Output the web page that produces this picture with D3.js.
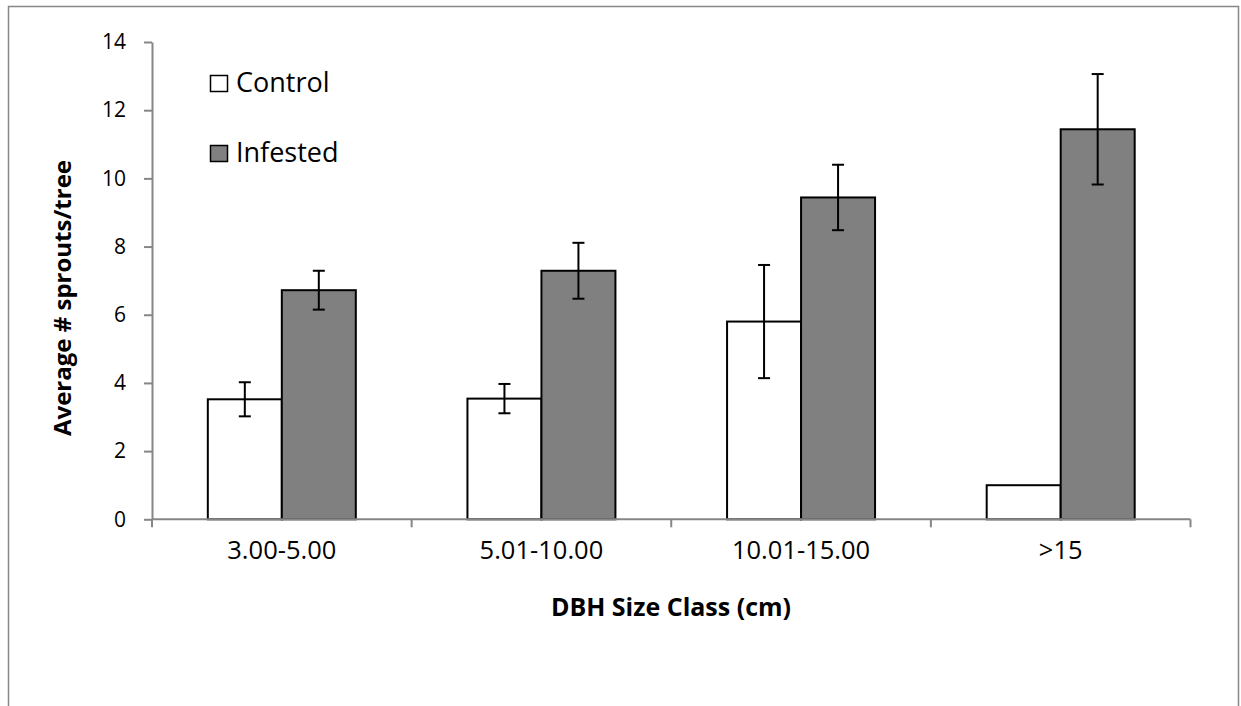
<!DOCTYPE html>
<html>
<head>
<meta charset="utf-8">
<script src="https://cdn.jsdelivr.net/npm/d3@7"></script>
<style>
    body { margin: 0; background: #fff; }
    svg text { font-family: "Open Sans", "Noto Sans", sans-serif; fill: #000; }
</style>
</head>
<body>
<div class="chart__container"></div>
<script>
const categories = ['3.00-5.00', '5.01-10.00', '10.01-15.00', '>15'];
const seriesNames = ['Control', 'Infested'];
const controlValues = [3.52, 3.54, 5.80, 1.0];
const controlErrors = [0.50, 0.43, 1.66, null];
const infestedValues = [6.72, 7.29, 9.44, 11.44];
const infestedErrors = [0.57, 0.82, 0.96, 1.62];
const yTicks = [0, 2, 4, 6, 8, 10, 12, 14];

const seriesFill = { Control: '#ffffff', Infested: '#808080' };

function whenDocumentLoaded(action) {
    if (document.readyState === "loading") {
        document.addEventListener("DOMContentLoaded", action);
    } else {
        action();
    }
}

function drawChart() {
    const width = 1241, height = 706;
    const plot = { left: 152, right: 1190.5, top: 42, bottom: 519.3 };
    const axisColor = '#868686';

    const svg = d3.select('.chart__container')
        .append('svg')
        .attr('width', width)
        .attr('height', height);

    // outer frame (bottom edge runs off the page)
    svg.append('rect')
        .attr('x', 8.5).attr('y', 6.5)
        .attr('width', 1230).attr('height', 720)
        .attr('fill', 'none')
        .attr('stroke', '#878787')
        .attr('stroke-width', 1.5);

    const y = d3.scaleLinear().domain([0, 14]).range([plot.bottom, plot.top]);

    const x0 = d3.scaleBand()
        .domain(categories)
        .range([plot.left, plot.right])
        .padding(0);

    const gap = x0.step() * 0.215;
    const x1 = d3.scaleBand()
        .domain(seriesNames)
        .range([gap, x0.step() - gap])
        .padding(0);

    const rows = categories.map((c, i) => ({
        category: c,
        bars: [
            { name: 'Control', value: controlValues[i], err: controlErrors[i] },
            { name: 'Infested', value: infestedValues[i], err: infestedErrors[i] }
        ]
    }));

    // y axis
    const yAxis = svg.append('g')
        .attr('transform', 'translate(' + plot.left + ',0)')
        .call(d3.axisLeft(y).tickValues(yTicks).tickSize(8).tickPadding(18).tickSizeOuter(0));
    yAxis.select('.domain').attr('stroke', axisColor).attr('stroke-width', 2);
    yAxis.selectAll('.tick line').attr('stroke', axisColor).attr('stroke-width', 2);
    yAxis.selectAll('.tick text')
        .style('font-family', '"Open Sans", sans-serif')
        .style('font-size', '21px')
        .attr('fill', '#000');

    // bars
    const groups = svg.append('g')
        .selectAll('g')
        .data(rows)
        .enter()
        .append('g')
        .attr('transform', d => 'translate(' + x0(d.category) + ',0)');

    groups.selectAll('rect')
        .data(d => d.bars)
        .enter()
        .append('rect')
        .attr('x', d => x1(d.name))
        .attr('y', d => y(d.value))
        .attr('width', x1.bandwidth())
        .attr('height', d => y(0) - y(d.value))
        .attr('fill', d => seriesFill[d.name])
        .attr('stroke', '#000')
        .attr('stroke-width', 2);

    // error bars
    const capHalf = 6;
    const errs = groups.selectAll('g.err')
        .data(d => d.bars.filter(b => b.err != null))
        .enter()
        .append('g')
        .attr('class', 'err')
        .attr('stroke', '#000')
        .attr('stroke-width', 2);

    errs.append('line')
        .attr('x1', d => x1(d.name) + x1.bandwidth() / 2)
        .attr('x2', d => x1(d.name) + x1.bandwidth() / 2)
        .attr('y1', d => y(d.value + d.err))
        .attr('y2', d => y(d.value - d.err));
    errs.append('line')
        .attr('x1', d => x1(d.name) + x1.bandwidth() / 2 - capHalf)
        .attr('x2', d => x1(d.name) + x1.bandwidth() / 2 + capHalf)
        .attr('y1', d => y(d.value + d.err))
        .attr('y2', d => y(d.value + d.err));
    errs.append('line')
        .attr('x1', d => x1(d.name) + x1.bandwidth() / 2 - capHalf)
        .attr('x2', d => x1(d.name) + x1.bandwidth() / 2 + capHalf)
        .attr('y1', d => y(d.value - d.err))
        .attr('y2', d => y(d.value - d.err));

    // x axis line + boundary ticks
    svg.append('line')
        .attr('x1', plot.left).attr('x2', plot.right)
        .attr('y1', y(0)).attr('y2', y(0))
        .attr('stroke', axisColor).attr('stroke-width', 2);

    const bounds = categories.map(c => x0(c)).concat([plot.right]);
    svg.append('g')
        .selectAll('line')
        .data(bounds)
        .enter()
        .append('line')
        .attr('x1', d => d).attr('x2', d => d)
        .attr('y1', y(0)).attr('y2', y(0) + 8)
        .attr('stroke', axisColor).attr('stroke-width', 2);

    svg.append('g')
        .selectAll('text')
        .data(categories)
        .enter()
        .append('text')
        .attr('x', d => x0(d) + x0.bandwidth() / 2)
        .attr('y', 559)
        .attr('text-anchor', 'middle')
        .style('font-size', '25.5px')
        .text(d => d);

    // axis titles
    svg.append('text')
        .attr('transform', 'translate(71,' + 298 + ') rotate(-90)')
        .attr('text-anchor', 'middle')
        .style('font-size', '24px')
        .style('font-weight', 'bold')
        .text('Average # sprouts/tree');

    svg.append('text')
        .attr('x', 671)
        .attr('y', 616)
        .attr('text-anchor', 'middle')
        .style('font-size', '25px')
        .style('font-weight', 'bold')
        .text('DBH Size Class (cm)');

    // legend
    const legend = svg.append('g')
        .selectAll('g')
        .data(seriesNames)
        .enter()
        .append('g')
        .attr('transform', (d, i) => 'translate(210,' + (75 + i * 70) + ')');

    legend.append('rect')
        .attr('x', 0.5).attr('y', 0.5)
        .attr('width', 17).attr('height', 16)
        .attr('fill', d => seriesFill[d])
        .attr('stroke', '#000')
        .attr('stroke-width', 1.5);

    legend.append('text')
        .attr('x', 26)
        .attr('y', 17)
        .style('font-size', '27px')
        .text(d => d);
}

whenDocumentLoaded(() => {
    drawChart();
});
</script>
</body>
</html>
